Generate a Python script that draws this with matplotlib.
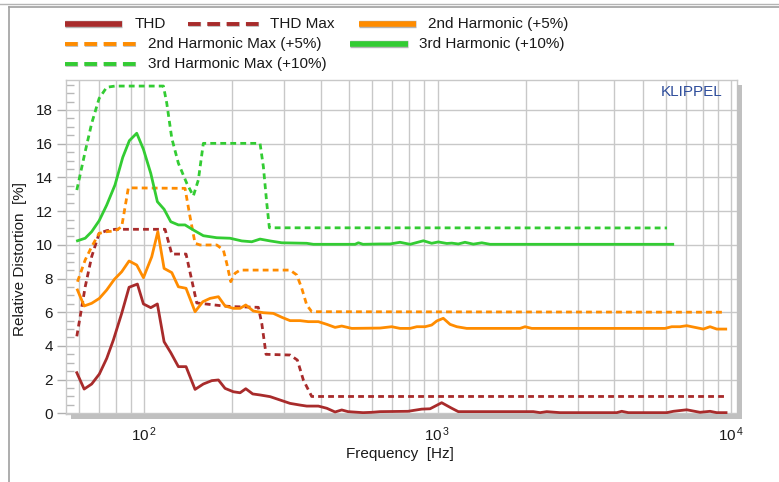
import matplotlib
matplotlib.use("Agg")
import matplotlib.pyplot as plt
from matplotlib.lines import Line2D
from matplotlib.patches import Rectangle
from matplotlib.ticker import FixedLocator, FixedFormatter, MultipleLocator, NullFormatter
import matplotlib.patheffects as pe

plt.rcParams['font.family'] = ['Liberation Sans', 'DejaVu Sans']
plt.rcParams['lines.scale_dashes'] = False

# --- data (frequency in Hz, distortion in %) ---
thd_freq = [59, 62.5, 66.3, 70.4, 74.6, 78.6, 83.9, 88.9, 94.9, 99.5, 105.4, 111, 117, 123.3, 130.9,
            139, 149.2, 159.2, 170.1, 179.2, 188.8, 201.5, 212.4, 222.1, 234.6, 248.4, 268.8, 290.7,
            314.4, 340, 358.3, 392.5, 419.4, 447.5, 471.6, 495.5, 557.5, 596.8, 637, 793, 884, 943,
            1033, 1118, 1177, 2121, 2235, 2355, 2615, 4079, 4242, 4468, 6039, 6360, 7066, 7841, 8481,
            8941, 9616]
thd_val = [2.41, 1.44, 1.74, 2.33, 3.26, 4.35, 5.93, 7.48, 7.67, 6.49, 6.27, 6.49, 4.25, 3.6, 2.77,
           2.77, 1.42, 1.74, 1.94, 1.98, 1.48, 1.28, 1.22, 1.46, 1.15, 1.09, 0.99, 0.79, 0.59, 0.49,
           0.43, 0.43, 0.3, 0.08, 0.2, 0.1, 0.04, 0.06, 0.1, 0.12, 0.25, 0.27, 0.63, 0.3, 0.1, 0.1,
           0.04, 0.1, 0.04, 0.04, 0.12, 0.04, 0.04, 0.12, 0.21, 0.06, 0.12, 0.04, 0.04]

thdmax_freq = [59, 63, 66.3, 70.3, 74.6, 79.6, 117.9, 124.3, 139, 145.4, 151.2, 186.3, 201.5, 245.1,
               251.8, 260.4, 314.4, 332.9, 348.9, 372.6, 9616]
thdmax_val = [4.57, 7.5, 9.3, 10.68, 10.84, 10.92, 10.92, 9.45, 9.45, 7.9, 6.55, 6.37, 6.33, 6.29,
              5.34, 3.5, 3.46, 3.16, 1.98, 1.0, 1.0]

h2_freq = [59.3, 62.5, 66.3, 70.4, 74.6, 79.2, 83.9, 88.9, 94.4, 99.5, 106.2, 111.4, 117, 124.3, 130.9,
           139, 149.2, 158.5, 167.8, 179.2, 188.8, 201.5, 212.4, 222.1, 235.7, 255, 275.8, 294.6,
           314.4, 340, 362.8, 392.5, 419.4, 447.5, 471.6, 510.2, 637, 698, 745, 806, 850, 907, 955,
           994, 1046, 1103, 1163, 1257, 1910, 1987, 2094, 5959, 6280, 6701, 7066, 7540, 8045, 8481,
           8941, 9593]
h2_val = [7.32, 6.37, 6.53, 6.82, 7.32, 7.95, 8.4, 9.04, 8.8, 8.05, 9.29, 10.78, 8.6, 8.35, 7.51,
          7.42, 6.03, 6.62, 6.82, 6.92, 6.37, 6.23, 6.23, 6.43, 6.07, 5.97, 5.93, 5.7, 5.5, 5.5,
          5.44, 5.44, 5.28, 5.1, 5.18, 5.04, 5.06, 5.14, 5.04, 5.04, 5.14, 5.14, 5.24, 5.48, 5.64,
          5.28, 5.14, 5.04, 5.04, 5.14, 5.04, 5.04, 5.14, 5.14, 5.2, 5.1, 5.0, 5.14, 5.0, 5.0]

h2max_freq = [59.3, 63, 66.3, 70.3, 74.6, 79.6, 83.9, 88.4, 137.9, 143.4, 149.2, 155.2, 176.9, 186.3,
              191.3, 197.4, 204.2, 212.4, 314.4, 331.4, 344.6, 358.3, 372.6, 9593]
h2max_val = [7.81, 9.1, 9.89, 10.68, 10.78, 10.82, 11.07, 13.38, 13.35, 11.67, 10.09, 9.99, 9.99, 9.69,
             8.9, 7.81, 8.31, 8.5, 8.5, 8.21, 7.42, 6.43, 6.03, 6.0]

h3_freq = [59.3, 63, 66.3, 70.3, 74.6, 79.6, 84.6, 89.1, 94.4, 99.5, 105.4, 111, 117, 123.3, 130.9,
           137.9, 147.2, 159.2, 176.9, 196.3, 215.3, 232.8, 248.4, 268.8, 294.6, 358.3, 377.3, 523.6,
           537.4, 557, 637, 689, 745, 806, 895, 955, 1006, 1075, 1118, 1177, 1240, 1324, 1415, 1510,
           6330]
h3_val = [10.24, 10.39, 10.78, 11.43, 12.36, 13.55, 15.19, 16.18, 16.62, 15.67, 14.24, 12.56, 12.11,
          11.37, 11.18, 11.18, 10.88, 10.54, 10.42, 10.39, 10.23, 10.18, 10.34, 10.23, 10.12, 10.09,
          10.03, 10.03, 10.12, 10.03, 10.05, 10.05, 10.15, 10.03, 10.24, 10.09, 10.17, 10.08, 10.1,
          10.05, 10.15, 10.04, 10.12, 10.03, 10.03]

h3max_freq = [59, 63, 66.3, 70.3, 74.6, 79.6, 116.4, 119.5, 124.3, 130.9, 139.8, 147.2, 153.1, 159.2,
              248.4, 255, 261.9, 267.3, 6053]
h3max_val = [13.25, 15.53, 17.21, 18.69, 19.35, 19.42, 19.42, 18.4, 16.32, 14.84, 13.65, 12.9, 13.85,
             16.02, 16.02, 14.63, 12.46, 11.01, 11.0]

labels = ["THD", "THD Max", "2nd Harmonic (+5%)", "2nd Harmonic Max (+5%)",
          "3rd Harmonic (+10%)", "3rd Harmonic Max (+10%)"]
xtick_vals = [100, 1000, 10000]
xtick_labels = ["$\\mathregular{10^{\\,2}}$", "$\\mathregular{10^{\\,3}}$", "$\\mathregular{10^{\\,4}}$"]
ytick_vals = [0, 2, 4, 6, 8, 10, 12, 14, 16, 18]

c_thd = '#a82b2b'
c_h2 = '#ff8c00'
c_h3 = '#33cc33'
grid_c = '#c8c8c8'
fs = 11

W, H = 779, 482
fig = plt.figure(figsize=(W / 100, H / 100), dpi=100)
ax = fig.add_axes([66 / W, 1 - 414 / H, 671 / W, 334 / H])

lw = 2.0
dash = (4.2, 3.0)
series = [
    (thd_freq, thd_val, c_thd, False),
    (thdmax_freq, thdmax_val, c_thd, True),
    (h2_freq, h2_val, c_h2, False),
    (h2max_freq, h2max_val, c_h2, True),
    (h3_freq, h3_val, c_h3, False),
    (h3max_freq, h3max_val, c_h3, True),
]
for (f, v, c, dashed), lab in zip(series, labels):
    ln, = ax.plot(f, v, color=c, lw=lw, label=lab, zorder=3, solid_joinstyle='round')
    if dashed:
        ln.set_dashes(dash)

ax.set_xscale('log')
ax.set_xlim(54.2, 10480)
ax.set_ylim(-0.04, 19.78)

ax.xaxis.set_major_locator(FixedLocator(xtick_vals))
ax.xaxis.set_major_formatter(FixedFormatter(xtick_labels))
ax.xaxis.set_minor_locator(FixedLocator([m * d for d in (10, 100, 1000) for m in range(2, 10)]))
ax.xaxis.set_minor_formatter(NullFormatter())
ax.yaxis.set_major_locator(FixedLocator(ytick_vals))
ax.yaxis.set_minor_locator(MultipleLocator(0.5))

ax.tick_params(axis='x', which='both', length=0, pad=8, labelsize=fs, labelcolor='#1a1a1a')
ax.tick_params(axis='y', which='major', direction='out', length=6.5, width=1, color='#b0b0b0',
               pad=3, labelsize=fs, labelcolor='#1a1a1a')
ax.tick_params(axis='y', which='minor', direction='in', length=5.8, width=1, color='#b8b8b8')

ax.grid(which='major', axis='both', color=grid_c, lw=1.0, zorder=0)
ax.grid(which='minor', axis='x', color=grid_c, lw=1.0, zorder=0)
ax.set_axisbelow(True)
for s in ax.spines.values():
    s.set_color(grid_c)
    s.set_linewidth(1.0)

ax.set_xlabel('Frequency  [Hz]', fontsize=fs, color='#1a1a1a', va='center')
ax.xaxis.set_label_coords(0.498, -0.12)
ax.set_ylabel('Relative Distortion  [%]', fontsize=fs, color='#1a1a1a', va='center')
ax.yaxis.set_label_coords(-0.069, 0.464)

ax.text(0.9787, 0.965, 'KLIPPEL', transform=ax.transAxes, ha='right', va='center',
        fontsize=fs, color='#2e4d9b')

# drop shadow of the plot frame
fig.add_artist(Rectangle((737 / W, 1 - 419 / H), 5 / W, 334 / H, transform=fig.transFigure,
                         color='#c0c0c0', lw=0))
fig.add_artist(Rectangle((71 / W, 1 - 419 / H), 671 / W, 5 / H, transform=fig.transFigure,
                         color='#c0c0c0', lw=0))

# outer frame of the window
fig.add_artist(Line2D([0, 1], [1 - 3.5 / H] * 2, color='#b4b4b4', lw=1))
fig.add_artist(Line2D([9 / W, 1], [1 - 7 / H] * 2, color='#a0a0a0', lw=1.2))
fig.add_artist(Line2D([9 / W, 9 / W], [0, 1 - 7 / H], color='#a0a0a0', lw=1.2))

# legend laid out in rows like the original
leg_rows = [
    (0, 65, 122, 24, 135),
    (1, 188, 260, 24, 270),
    (2, 359, 416, 24, 428),
    (3, 65, 137, 44, 148),
    (4, 350, 408, 44, 419),
    (5, 65, 137, 64, 148),
]
for idx, x0, x1, y, tx in leg_rows:
    _, _, c, dashed = series[idx]
    yy = 1 - y / H
    if dashed:
        h = Line2D([x0 / W, x1 / W], [yy, yy], color=c, lw=2.8, solid_capstyle='butt',
                   dash_capstyle='butt', transform=fig.transFigure,
                   path_effects=[pe.Stroke(linewidth=3.6, foreground='#c4c4c4'), pe.Normal()])
        h.set_dashes((9.1, 4.8))
    else:
        h = Line2D([x0 / W, x1 / W], [yy, yy], color=c, lw=4.0, solid_capstyle='butt',
                   transform=fig.transFigure,
                   path_effects=[pe.Stroke(linewidth=5.3, foreground='#b4b4b4'), pe.Normal()])
    fig.add_artist(h)
    fig.text(tx / W, yy, labels[idx], ha='left', va='center', fontsize=fs, color='#1a1a1a')

fig.savefig('out.png', dpi=100)
